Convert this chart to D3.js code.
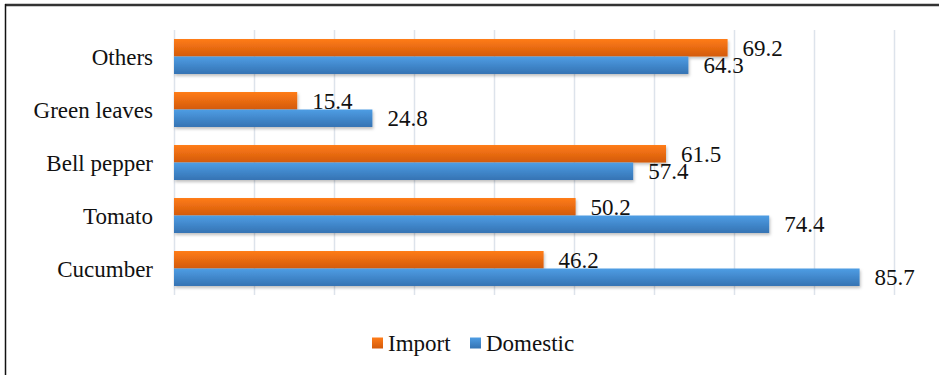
<!DOCTYPE html>
<html>
<head>
<meta charset="utf-8">
<script src="https://cdn.jsdelivr.net/npm/d3@7"></script>
<style>
  body { margin: 0; background: #fff; }
  svg { display: block; }
  text { font-family: 'Liberation Serif', 'Times New Roman', Times, serif; font-size: 23px; fill: #111; }
</style>
</head>
<body>
<svg id="chart" width="939" height="375"></svg>
<script>
// data
const categories = ['Others', 'Green leaves', 'Bell pepper', 'Tomato', 'Cucumber']
const importValues = [69.2, 15.4, 61.5, 50.2, 46.2]
const domesticValues = [64.3, 24.8, 57.4, 74.4, 85.7]
const seriesNames = ['Import', 'Domestic']
const xTicks = [0, 10, 20, 30, 40, 50, 60, 70, 80, 90]

const svg = d3.select('#chart')

const margin = { left: 174, right: 45, top: 30, bottom: 80 }
const width = +svg.attr('width')
const height = +svg.attr('height')

const x = d3.scaleLinear().domain([0, 90]).range([margin.left, width - margin.right])
const y = d3.scaleBand().domain(categories).range([margin.top, height - margin.bottom]).paddingInner(0.34).paddingOuter(0.17)
const sub = d3.scaleBand().domain(seriesNames).range([0, y.bandwidth()])

const colors = {
  Import: ['#ff7c18', '#d35a0b'],
  Domestic: ['#4e9de4', '#3573b3']
}

const defs = svg.append('defs')
seriesNames.forEach(function (name) {
  const g = defs.append('linearGradient')
    .attr('id', 'grad-' + name)
    .attr('x1', 0).attr('y1', 0).attr('x2', 0).attr('y2', 1)
  g.append('stop').attr('offset', '0%').attr('stop-color', colors[name][0])
  g.append('stop').attr('offset', '100%').attr('stop-color', colors[name][1])
})
defs.append('filter').attr('id', 'shadow')
  .attr('x', '-5%').attr('y', '-20%').attr('width', '110%').attr('height', '160%')
  .append('feDropShadow')
  .attr('dx', 1).attr('dy', 2).attr('stdDeviation', 1.5)
  .attr('flood-color', '#000').attr('flood-opacity', 0.25)

// frame (top and left only, as in the picture)
svg.append('line').attr('x1', 5).attr('x2', width).attr('y1', 5).attr('y2', 5)
  .attr('stroke', '#333').attr('stroke-width', 2.5)
svg.append('line').attr('x1', 5.5).attr('x2', 5.5).attr('y1', 4).attr('y2', height)
  .attr('stroke', '#111').attr('stroke-width', 1.5)

// grid
const gridTop = margin.top
const gridBottom = height - margin.bottom
svg.append('g')
  .selectAll('line')
  .data(xTicks)
  .enter().append('line')
  .attr('x1', function (d) { return Math.round(x(d)) + 0.5 })
  .attr('x2', function (d) { return Math.round(x(d)) + 0.5 })
  .attr('y1', gridTop)
  .attr('y2', gridBottom)
  .attr('stroke', '#dde3eb')
  .attr('stroke-width', 1.5)

const rows = categories.map(function (c, i) {
  return { cat: c, values: [{ name: 'Import', v: importValues[i] }, { name: 'Domestic', v: domesticValues[i] }] }
})

const group = svg.append('g').selectAll('g')
  .data(rows)
  .enter().append('g')
  .attr('transform', function (d) { return 'translate(0,' + y(d.cat) + ')' })

group.selectAll('rect')
  .data(function (d) { return d.values })
  .enter().append('rect')
  .attr('x', x(0))
  .attr('y', function (d) { return sub(d.name) })
  .attr('width', function (d) { return x(d.v) - x(0) })
  .attr('height', sub.bandwidth())
  .attr('fill', function (d) { return 'url(#grad-' + d.name + ')' })
  .attr('filter', 'url(#shadow)')

group.selectAll('text.value')
  .data(function (d) { return d.values })
  .enter().append('text')
  .attr('class', 'value')
  .attr('x', function (d) { return x(d.v) + 15 })
  .attr('y', function (d) { return sub(d.name) + sub.bandwidth() / 2 })
  .attr('dy', '0.35em')
  .text(function (d) { return d.v.toFixed(1) })

// category labels
svg.append('g').selectAll('text')
  .data(categories)
  .enter().append('text')
  .attr('x', 153)
  .attr('y', function (d) { return y(d) + y.bandwidth() / 2 })
  .attr('dy', '0.35em')
  .attr('text-anchor', 'end')
  .text(function (d) { return d })

// legend
const legendX = [372, 470]
const legend = svg.append('g').selectAll('g')
  .data(seriesNames)
  .enter().append('g')
  .attr('transform', function (d, i) { return 'translate(' + legendX[i] + ',343)' })
legend.append('rect')
  .attr('x', 0).attr('y', -5.5).attr('width', 11).attr('height', 11)
  .attr('fill', function (d) { return 'url(#grad-' + d + ')' })
legend.append('text')
  .attr('x', 16)
  .attr('dy', '0.35em')
  .text(function (d) { return d })
</script>
</body>
</html>
